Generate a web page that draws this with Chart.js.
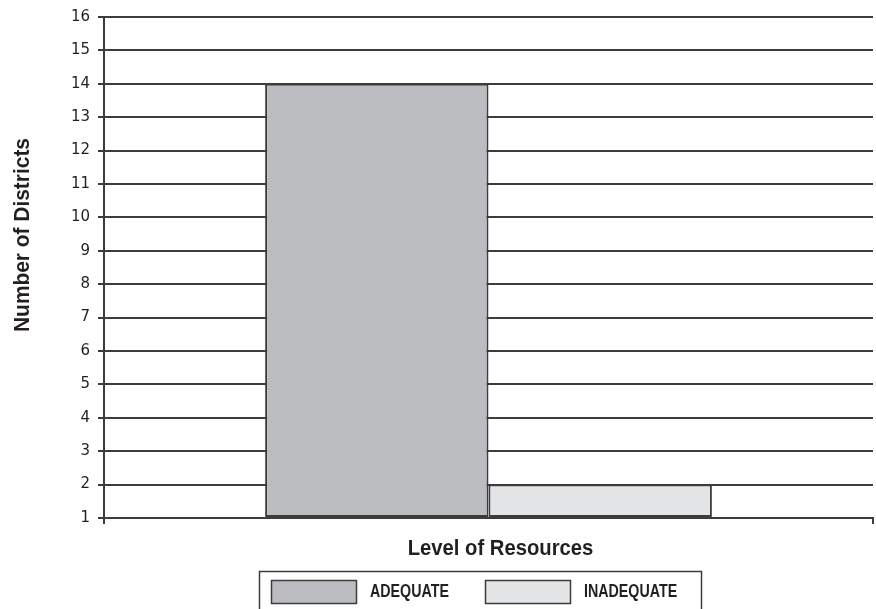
<!DOCTYPE html>
<html>
<head>
<meta charset="utf-8">
<script src="https://cdn.jsdelivr.net/npm/chart.js@4/dist/chart.umd.min.js"></script>
<style>
  html, body { margin: 0; padding: 0; background: #ffffff; }
  #wrap { width: 876px; height: 609px; position: relative; }
</style>
</head>
<body>
<div id="wrap"><canvas id="chart"></canvas></div>
<script>
// Districts by level of resources
const categories = ['Level of Resources'];
const seriesNames = ['ADEQUATE', 'INADEQUATE'];
const adequateCounts = [14];
const inadequateCounts = [2];
const seriesColors = ['#bcbdc1', '#e4e5e7'];
const yAxisMin = 1;
const yAxisMax = 16;
const yAxisStep = 1;
const xTitle = 'Level of Resources';
const yTitle = 'Number of Districts';

const INK = '#231f20';
const LINE = '#3c3c3c';
const BOLD_FACE = '"Liberation Sans", Arial, sans-serif';

// Draws condensed bold text by squeezing it horizontally
function condensedText(ctx, text, x, y, size, squeeze, align) {
  ctx.save();
  ctx.translate(x, y);
  ctx.scale(squeeze, 1);
  ctx.font = 'bold ' + size + 'px ' + BOLD_FACE;
  ctx.textAlign = align;
  ctx.textBaseline = 'middle';
  ctx.fillText(text, 0, 0);
  ctx.restore();
}

// Axis titles and the boxed legend under the plot
const framePlugin = {
  id: 'frameText',
  afterDraw(chart) {
    const ctx = chart.ctx;
    ctx.save();
    ctx.fillStyle = INK;

    // vertical axis title
    ctx.save();
    ctx.translate(22.5, 235);
    ctx.rotate(-Math.PI / 2);
    condensedText(ctx, yTitle, 0, 0, 22, 0.95, 'center');
    ctx.restore();

    // horizontal axis title
    condensedText(ctx, xTitle, 500.5, 549, 22, 0.92, 'center');

    // legend frame
    ctx.strokeStyle = LINE;
    ctx.lineWidth = 1.5;
    ctx.strokeRect(259.5, 571.5, 442, 60);

    const swatchX = [271, 485];
    chart.data.datasets.forEach((ds, i) => {
      const x = swatchX[i];
      ctx.fillStyle = ds.backgroundColor;
      ctx.fillRect(x, 580, 85, 23);
      ctx.strokeStyle = LINE;
      ctx.lineWidth = 1.5;
      ctx.strokeRect(x + 0.5, 580.5, 85, 23);
      ctx.fillStyle = INK;
      condensedText(ctx, ds.label, x + 99, 592, 19, 0.75, 'left');
    });
    ctx.restore();
  }
};

new Chart(document.getElementById('chart'), {
  type: 'bar',
  data: {
    labels: categories,
    datasets: [
      {
        label: seriesNames[0],
        data: adequateCounts,
        backgroundColor: seriesColors[0],
        borderColor: LINE,
        borderWidth: 2,
        borderSkipped: false,
        base: yAxisMin
      },
      {
        label: seriesNames[1],
        data: inadequateCounts,
        backgroundColor: seriesColors[1],
        borderColor: LINE,
        borderWidth: 2,
        borderSkipped: false,
        base: yAxisMin
      }
    ]
  },
  options: {
    responsive: true,
    maintainAspectRatio: false,
    animation: false,
    layout: { padding: { top: 17, right: 3, bottom: 85, left: 0 } },
    datasets: {
      bar: { categoryPercentage: 0.581, barPercentage: 1.0 }
    },
    plugins: {
      legend: { display: false },
      tooltip: { enabled: false },
      title: { display: false }
    },
    scales: {
      x: {
        offset: true,
        ticks: { display: false },
        grid: {
          offset: true,
          drawOnChartArea: false,
          drawTicks: true,
          tickLength: 6,
          color: LINE,
          lineWidth: 2
        },
        border: { display: true, color: LINE, width: 2 },
        title: { display: false },
        afterFit(scale) { scale.height = 6; scale.paddingLeft = 0; scale.paddingRight = 0; }
      },
      y: {
        min: yAxisMin,
        max: yAxisMax,
        ticks: {
          stepSize: yAxisStep,
          color: INK,
          padding: 8,
          font: { family: '"DejaVu Sans", Verdana, sans-serif', size: 15 }
        },
        grid: {
          color: LINE,
          lineWidth: 2,
          drawTicks: true,
          tickLength: 6
        },
        border: { display: true, color: LINE, width: 2 },
        title: { display: false },
        afterFit(scale) { scale.width = 104; scale.paddingTop = 0; scale.paddingBottom = 0; }
      }
    }
  },
  plugins: [framePlugin]
});
</script>
</body>
</html>
